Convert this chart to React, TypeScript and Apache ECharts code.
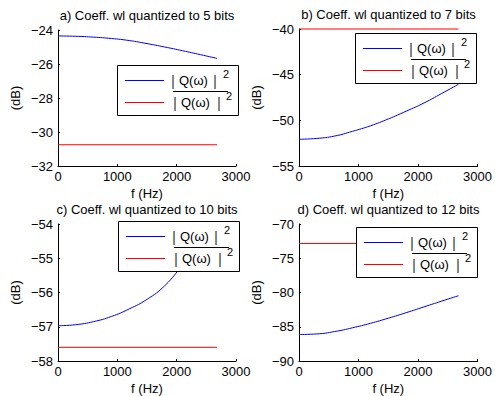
import React, { useEffect, useRef } from "react";
import * as echarts from "echarts";

// ---- data ----
const FREQ = [0, 300, 600, 900, 1200, 1500, 1800, 2100, 2400, 2680];
const RED_FREQ = [0, 2680];

const BLUE_A = [-24.35, -24.37, -24.42, -24.5, -24.62, -24.8, -25.0, -25.22, -25.45, -25.67];
const RED_A = [-30.75, -30.75];
const BLUE_B = [-52.07, -51.98, -51.72, -51.2, -50.6, -49.85, -49.0, -48.1, -47.05, -46.05];
const RED_B = [-40.0, -40.0];
const BLUE_C = [-56.97, -56.94, -56.85, -56.7, -56.48, -56.2, -55.8, -55.2, -54.6, -54.0];
const RED_C = [-57.6, -57.6];
const BLUE_D = [-86.13, -86.05, -85.7, -85.15, -84.5, -83.75, -82.95, -82.1, -81.25, -80.47];
const RED_D = [-72.84, -72.84];

const TITLES = [
  "a) Coeff. wl quantized to 5 bits",
  "b) Coeff. wl quantized to 7 bits",
  "c) Coeff. wl quantized to 10 bits",
  "d) Coeff. wl quantized to 12 bits",
];
const Y_MIN = [-32, -55, -58, -90];
const Y_MAX = [-24, -40, -54, -70];
const Y_STEP = [2, 5, 1, 5];
const X_MIN = 0;
const X_MAX = 3000;
const X_STEP = 1000;
const X_NAME = "f (Hz)";
const Y_NAME = "(dB)";
const LEGEND_LABEL = "Q(ω)";

const FONT = "'Liberation Sans', Arial, Helvetica, sans-serif";

export default function App() {
  const ref = useRef<HTMLDivElement>(null);
  useEffect(() => {
    if (!ref.current) return;
    const chart = echarts.init(ref.current, null, { renderer: "svg" });

    const blues = [BLUE_A, BLUE_B, BLUE_C, BLUE_D];
    const reds = [RED_A, RED_B, RED_C, RED_D];
    const grids = [
      { left: 58, top: 30, width: 178, height: 136 },
      { left: 299, top: 29, width: 179, height: 137 },
      { left: 58, top: 224, width: 178, height: 137 },
      { left: 299, top: 224, width: 179, height: 137 },
    ];
    const legends = [
      { right: 238, top: 65 },
      { right: 476, top: 33 },
      { right: 239, top: 221 },
      { right: 477, top: 227 },
    ];

    const minus = (v: number) => String(v).replace("-", "\u2212");

    const xAxis = grids.map((_, i) => ({
      type: "value",
      gridIndex: i,
      min: X_MIN,
      max: X_MAX,
      interval: X_STEP,
      name: X_NAME,
      nameLocation: "middle",
      nameGap: 21,
      nameTextStyle: { fontSize: 13, color: "#000", fontFamily: FONT },
      axisLine: { show: true, onZero: false, lineStyle: { color: "#000", width: 1 } },
      axisTick: { show: true, inside: true, length: 2, lineStyle: { color: "#000" } },
      axisLabel: { fontSize: 13, color: "#000", fontFamily: FONT, margin: 4, formatter: minus },
      splitLine: { show: false },
    }));
    const yAxis = grids.map((_, i) => ({
      type: "value",
      gridIndex: i,
      min: Y_MIN[i],
      max: Y_MAX[i],
      interval: Y_STEP[i],
      name: Y_NAME,
      nameLocation: "middle",
      nameRotate: 90,
      nameGap: 36,
      nameTextStyle: { fontSize: 13, color: "#000", fontFamily: FONT },
      axisLine: { show: true, onZero: false, lineStyle: { color: "#000", width: 1 } },
      axisTick: { show: true, inside: true, length: 2, lineStyle: { color: "#000" } },
      axisLabel: { fontSize: 13, color: "#000", fontFamily: FONT, margin: 5, formatter: minus },
      splitLine: { show: false },
    }));

    const series: any[] = [];
    grids.forEach((_, i) => {
      series.push({
        type: "line",
        xAxisIndex: i,
        yAxisIndex: i,
        data: FREQ.map((f, k) => [f, blues[i][k]]),
        showSymbol: false,
        smooth: 0.5,
        lineStyle: { color: "#0000ff", width: 1 },
        itemStyle: { color: "#0000ff" },
        clip: false,
        silent: true,
      });
      series.push({
        type: "line",
        xAxisIndex: i,
        yAxisIndex: i,
        data: RED_FREQ.map((f, k) => [f, reds[i][k]]),
        showSymbol: false,
        lineStyle: { color: "#ff0000", width: 1 },
        itemStyle: { color: "#ff0000" },
        clip: false,
        silent: true,
      });
    });

    const graphic: any[] = [];
    [3, 2, 1, 0].forEach((i) => {
      const g = grids[i];
      graphic.push({
        type: "text",
        x: g.left + g.width / 2,
        y: g.top - 15,
        z: 100,
        silent: true,
        style: {
          text: TITLES[i],
          fontSize: 13,
          fontFamily: FONT,
          fill: "#000",
          align: "center",
          verticalAlign: "middle",
          textAlign: "center",
          textVerticalAlign: "middle",
        },
      });
      const W = 121;
      const H = 50;
      const L = legends[i].right - W;
      const T = legends[i].top;
      const r1 = T + 15;
      const r2 = T + 37;
      graphic.push({
        type: "rect",
        z: 100,
        silent: true,
        shape: { x: L + 0.5, y: T + 0.5, width: W, height: H },
        style: { fill: "#fff", stroke: "#000", lineWidth: 1 },
      });
      const txt = (x: number, y: number, text: string, size: number, color = "#000") => ({
        type: "text",
        x,
        y,
        z: 101,
        silent: true,
        style: {
          text,
          fontSize: size,
          fontFamily: FONT,
          fill: color,
          align: "left",
          verticalAlign: "middle",
          textAlign: "left",
          textVerticalAlign: "middle",
        },
      });
      graphic.push({
        type: "rect",
        z: 102,
        silent: true,
        shape: { x: L + 8, y: r1, width: 39, height: 1 },
        style: { fill: "rgb(0,0,255)" },
      });
      graphic.push(txt(L + 54, r1, "|", 15, "#444"));
      graphic.push(txt(L + 62, r1, LEGEND_LABEL, 13));
      graphic.push(txt(L + 96, r1, "|", 15, "#444"));
      graphic.push(txt(L + 106, r1 - 6, "2", 11));
      graphic.push({
        type: "rect",
        z: 102,
        silent: true,
        shape: { x: L + 8, y: r2, width: 39, height: 1 },
        style: { fill: "rgb(255,0,0)" },
      });
      graphic.push(txt(L + 56, r2, "|", 15, "#444"));
      graphic.push(txt(L + 64, r2, LEGEND_LABEL, 13));
      graphic.push(txt(L + 100, r2, "|", 15, "#444"));
      graphic.push(txt(L + 109, r2 - 6, "2", 11));
      graphic.push({
        type: "rect",
        z: 101,
        silent: true,
        shape: { x: L + 56, y: r2 - 11, width: 55, height: 1 },
        style: { fill: "#000" },
      });
    });

    chart.setOption({
      animation: false,
      backgroundColor: "#fff",
      textStyle: { fontFamily: FONT },
      grid: grids,
      xAxis,
      yAxis,
      series,
      graphic,
    });
    return () => chart.dispose();
  }, []);

  return (
    <div
      ref={ref}
      style={{ position: "fixed", left: 0, top: 0, width: 495, height: 396, background: "#fff" }}
    />
  );
}
